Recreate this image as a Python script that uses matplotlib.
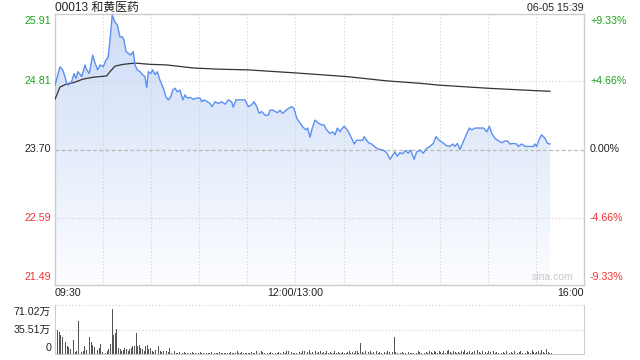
import numpy as np
import matplotlib
matplotlib.use("Agg")
import matplotlib.pyplot as plt
from matplotlib.colors import LinearSegmentedColormap
from matplotlib.patches import Polygon
import matplotlib.transforms as mtrans

plt.rcParams['font.family'] = ['Liberation Sans', 'Noto Sans CJK SC', 'DejaVu Sans']

# ---------------- data ----------------
title = "00013 和黄医药"
stamp = "06-05 15:39"
prev_close = 23.70
price_ticks = [25.91, 24.81, 23.70, 22.59, 21.49]
pct_labels = ["+9.33%", "+4.66%", "0.00%", "-4.66%", "-9.33%"]
x_tick_minutes = [0, 150, 330]
x_tick_labels = ["09:30", "12:00/13:00", "16:00"]
vol_ticks = [71.02, 35.51, 0]
vol_labels = ["71.02万", "35.51万", "0"]

# trading minutes since 09:30 (lunch break removed) and price
price_t = [0, 3.1, 4.8, 6.2, 7.3, 8.3, 10.4, 11.9, 13.1, 14.3, 16.7, 18.7, 19.8, 21.4, 23.5, 25.0,
           26.6, 28.1, 30.1, 31.8, 33.2, 34.3, 35.7, 37.4, 38.9, 40.5, 42.0, 43.0, 44.3, 45.7,
           47.2, 48.8, 49.9, 51.3, 53.0, 54.7, 56.1, 57.2, 58.2, 59.7, 60.9, 62.4, 63.8, 65.5,
           67.6, 69.2, 70.7, 72.2, 73.4, 74.9, 76.3, 78.0, 79.7, 81.1, 82.5, 84.2, 86.3, 88.4,
           90.5, 91.5, 92.9, 95.0, 96.7, 98.1, 99.8, 101.9, 104.0, 106.1, 108.1, 110.2, 111.2,
           112.9, 115.4, 118.5, 120.6, 122.7, 124.1, 125.8, 127.4, 128.9, 131.0, 133.1, 134.1,
           136.2, 138.7, 140.4, 142.0, 144.1, 145.5, 147.7, 149.1, 150.8, 152.4, 154.5, 156.6,
           157.6, 159.1, 160.5, 162.2, 164.3, 166.4, 167.8, 169.5, 171.5, 173.2, 174.7, 176.1,
           177.8, 178.8, 180.3, 182.0, 183.6, 185.1, 186.7, 188.2, 190.3, 191.9, 192.9, 194.4,
           196.1, 197.6, 199.2, 200.7, 202.7, 204.8, 206.9, 209.0, 210.7, 212.1, 213.5, 215.2,
           216.9, 218.3, 220.4, 221.9, 224.0, 225.6, 227.7, 229.7, 231.9, 233.9, 236.0, 237.7,
           239.7, 241.9, 244.3, 246.4, 248.1, 249.5, 251.0, 252.7, 254.7, 256.9, 258.5, 260.0,
           262.0, 265.2, 267.3, 269.4, 271.0, 272.5, 274.6, 276.7, 278.8, 280.7, 282.2, 283.8,
           285.9, 288.0, 289.0, 291.1, 293.2, 296.3, 298.4, 299.4, 300.5, 302.1, 303.6, 305.7,
           307.3, 308.8]
price = [24.75, 25.05, 25.00, 24.89, 24.78, 24.75, 24.81, 24.94, 24.86, 24.97, 24.89, 25.08, 25.00,
         24.94, 25.24, 25.11, 25.00, 25.08, 25.05, 25.16, 25.21, 25.49, 25.89, 25.78, 25.73, 25.54,
         25.54, 25.49, 25.30, 25.27, 25.24, 25.30, 25.08, 25.00, 24.97, 24.92, 24.89, 24.71, 24.97,
         24.94, 25.00, 24.92, 24.97, 24.83, 24.70, 24.56, 24.51, 24.56, 24.67, 24.70, 24.64, 24.67,
         24.51, 24.59, 24.54, 24.55, 24.52, 24.54, 24.54, 24.48, 24.51, 24.48, 24.45, 24.40, 24.48,
         24.45, 24.48, 24.44, 24.51, 24.48, 24.39, 24.51, 24.51, 24.51, 24.40, 24.43, 24.48, 24.40,
         24.29, 24.32, 24.26, 24.26, 24.34, 24.34, 24.30, 24.34, 24.29, 24.34, 24.37, 24.40, 24.37,
         24.21, 24.15, 24.07, 24.02, 24.05, 23.90, 24.05, 24.18, 24.13, 24.10, 24.10, 24.02, 23.96,
         23.99, 23.94, 24.05, 23.99, 24.03, 24.08, 24.03, 23.96, 23.88, 23.79, 23.85, 23.85, 23.85,
         23.91, 23.85, 23.80, 23.79, 23.75, 23.72, 23.70, 23.69, 23.65, 23.54, 23.61, 23.66, 23.59,
         23.65, 23.63, 23.68, 23.64, 23.69, 23.54, 23.66, 23.69, 23.64, 23.72, 23.75, 23.80, 23.91,
         23.85, 23.81, 23.76, 23.75, 23.79, 23.75, 23.80, 23.70, 23.83, 23.96, 24.05, 24.02, 24.05,
         24.05, 24.05, 23.99, 24.08, 23.96, 23.88, 23.84, 23.81, 23.84, 23.84, 23.79, 23.80, 23.79,
         23.75, 23.79, 23.75, 23.75, 23.75, 23.79, 23.75, 23.87, 23.94, 23.88, 23.80, 23.79]

avg_t = [0, 3.1, 7.3, 11.4, 17.7, 23.9, 32.2, 34.3, 37.4, 42.6, 49.9, 59.3, 69.7, 86.3, 102.9,
         119.9, 149.9, 182.0, 206.9, 227.7, 239.7, 269.8, 299.9, 308.8]
avg_price = [24.52, 24.72, 24.77, 24.79, 24.85, 24.88, 24.90, 24.97, 25.06, 25.09, 25.11, 25.09,
             25.08, 25.03, 25.01, 25.00, 24.95, 24.89, 24.82, 24.78, 24.75, 24.70, 24.66, 24.65]

# volume per minute, in 万 shares
volume = [42, 35, 32, 27, 25, 20, 18, 12, 10, 7,
          8, 20, 3, 5, 48, 16, 3, 4, 12, 6,
          29, 25, 18, 13, 10, 12, 6, 8, 15, 3,
          3, 2, 4, 7, 15, 65, 27, 31, 36, 8,
          7, 4, 6, 8, 7, 5, 7, 8, 11, 12,
          31, 11, 13, 8, 7, 5, 11, 13, 7, 8,
          5, 3, 6, 11, 12, 4, 3, 5, 2, 4,
          3, 8, 2, 3, 5, 2, 1, 3, 2, 2,
          3, 2, 1, 5, 2, 3, 2, 1, 8, 2,
          3, 1, 2, 3, 1, 2, 1, 3, 2, 1,
          2, 1, 3, 2, 1, 2, 1, 1, 2, 3,
          1, 2, 1, 4, 2, 1, 3, 2, 1, 2,
          1, 2, 3, 1, 2, 4, 5, 2, 5, 3,
          2, 16, 2, 1, 3, 2, 1, 2, 1, 3,
          2, 1, 3, 2, 4, 5, 2, 3, 1, 2,
          2, 1, 3, 2, 4, 5, 2, 3, 6, 2,
          3, 2, 4, 2, 3, 5, 2, 3, 2, 4,
          2, 3, 1, 2, 4, 2, 3, 1, 2, 3,
          2, 1, 3, 4, 2, 3, 2, 4, 5, 2,
          16, 3, 2, 4, 2, 3, 5, 2, 3, 2,
          4, 2, 3, 2, 5, 3, 2, 4, 3, 2,
          3, 25, 3, 2, 4, 2, 3, 2, 1, 2,
          3, 2, 1, 2, 3, 2, 4, 3, 2, 1,
          2, 3, 2, 4, 3, 2, 5, 3, 2, 4,
          3, 2, 4, 2, 5, 6, 3, 2, 4, 3,
          2, 3, 2, 4, 3, 6, 2, 3, 5, 2,
          3, 4, 2, 6, 3, 2, 4, 5, 3, 2,
          4, 3, 2, 5, 2, 3, 2, 4, 2, 3,
          2, 4, 3, 2, 3, 2, 5, 3, 2, 3,
          4, 2, 3, 2, 5, 3, 2, 6, 3, 2,
          3, 5, 2, 6, 3, 2, 7, 3, 2, 1]

# ---------------- style ----------------
GREEN = "#1aa31a"
RED = "#f03030"
BLACK = "#222222"
label_colors = [GREEN, GREEN, BLACK, RED, RED]
LINE = "#5b8ff0"
GRID = "#cfcfcf"
BORDER = "#cccccc"
FS = 7.7

W, H = 640, 360
fig = plt.figure(figsize=(6.4, 3.6), dpi=100)
L, R = 55, 584
ax = fig.add_axes([L / W, 1 - 285 / H, (R - L) / W, (285 - 14) / H])
axv = fig.add_axes([L / W, 1 - 354 / H, (R - L) / W, (354 - 305) / H])

span = prev_close * 0.0933
ymin, ymax = prev_close - span, prev_close + span
ax.set_xlim(0, 330)
ax.set_ylim(ymin, ymax)

# gradient fill under price line
cmap = LinearSegmentedColormap.from_list("g", ["#fcfdff", "#cddcf7"])
grad = np.linspace(0, 1, 256).reshape(-1, 1)
im = ax.imshow(grad, extent=[0, 330, ymin, ymax], origin="lower", aspect="auto",
               cmap=cmap, zorder=1, interpolation="bilinear")
pt = np.asarray(price_t)
pp = np.asarray(price)
poly = Polygon(np.column_stack([np.r_[pt[0], pt, pt[-1]], np.r_[ymin, pp, ymin]]),
               closed=True, facecolor="none", edgecolor="none", transform=ax.transData)
ax.add_patch(poly)
im.set_clip_path(poly)
ax.set_xlim(0, 330)
ax.set_ylim(ymin, ymax)

# grid
for m in range(30, 330, 30):
    ax.axvline(m, color=GRID, lw=0.8, ls=(0, (1, 2)), zorder=2)
for v in price_ticks[1:-1]:
    if abs(v - prev_close) < 1e-6:
        ax.axhline(v, color="#b8b8b8", lw=0.9, ls=(0, (3, 2)), zorder=2)
    else:
        ax.axhline(v, color=GRID, lw=0.8, ls=(0, (1, 2)), zorder=2)

ax.plot(price_t, price, color=LINE, lw=1.0, zorder=4)
ax.plot(avg_t, avg_price, color="#333333", lw=0.9, zorder=3)

for s in ax.spines.values():
    s.set_color(BORDER)
    s.set_linewidth(1.0)
ax.set_xticks([])
ax.set_yticks([])

# price tick labels
for i, (v, lab, c) in enumerate(zip(price_ticks, pct_labels, label_colors)):
    va = "center"
    dy = 0
    if i == 0:
        va, dy = "top", -2
    elif i == len(price_ticks) - 1:
        va, dy = "bottom", 3
    ax.annotate(f"{v:.2f}", xy=(0, v), xycoords=("axes fraction", "data"),
                xytext=(-4, dy), textcoords="offset pixels", ha="right", va=va,
                color=c, fontsize=FS)
    ax.annotate(lab, xy=(1, v), xycoords=("axes fraction", "data"),
                xytext=(6, dy), textcoords="offset pixels", ha="left", va=va,
                color=c, fontsize=FS)

# time labels
has = ["left", "center", "right"]
for m, lab, ha in zip(x_tick_minutes, x_tick_labels, has):
    ax.annotate(lab, xy=(m, 0), xycoords=("data", "axes fraction"),
                xytext=(0, -8), textcoords="offset pixels", ha=ha, va="center",
                color=BLACK, fontsize=FS)

fig.text(L / W, 1 - 8 / H, title, ha="left", va="center", fontsize=8.6, color=BLACK)
fig.text(R / W, 1 - 8 / H, stamp, ha="right", va="center", fontsize=7.7, color=BLACK)
fig.text(573 / W, 1 - 277 / H, "sina.com", ha="right", va="center", fontsize=7.5, color="#c8c8c8")

# volume panel
vx = np.arange(len(volume)) + 0.6
axv.bar(vx, volume, width=0.55, color="#555555", zorder=3)
axv.set_xlim(0, 330)
axv.set_ylim(0, vol_ticks[0])
for v in vol_ticks[:2]:
    axv.axhline(v, color=GRID, lw=0.8, ls=(0, (1, 2)), zorder=2, clip_on=False)
axv.spines["top"].set_visible(False)
for k in ["left", "right", "bottom"]:
    axv.spines[k].set_color(BORDER)
axv.set_xticks([])
axv.set_yticks([])
for i, (v, lab) in enumerate(zip(vol_ticks, vol_labels)):
    va, dy = "center", 0
    if i == 0:
        va, dy = "top", -2
    elif i == len(vol_ticks) - 1:
        va, dy = "bottom", 1
    axv.annotate(lab, xy=(0, v), xycoords=("axes fraction", "data"),
                 xytext=(-4, dy), textcoords="offset pixels", ha="right", va=va,
                 color=BLACK, fontsize=FS)

fig.savefig("out.png", dpi=100, facecolor="white")
